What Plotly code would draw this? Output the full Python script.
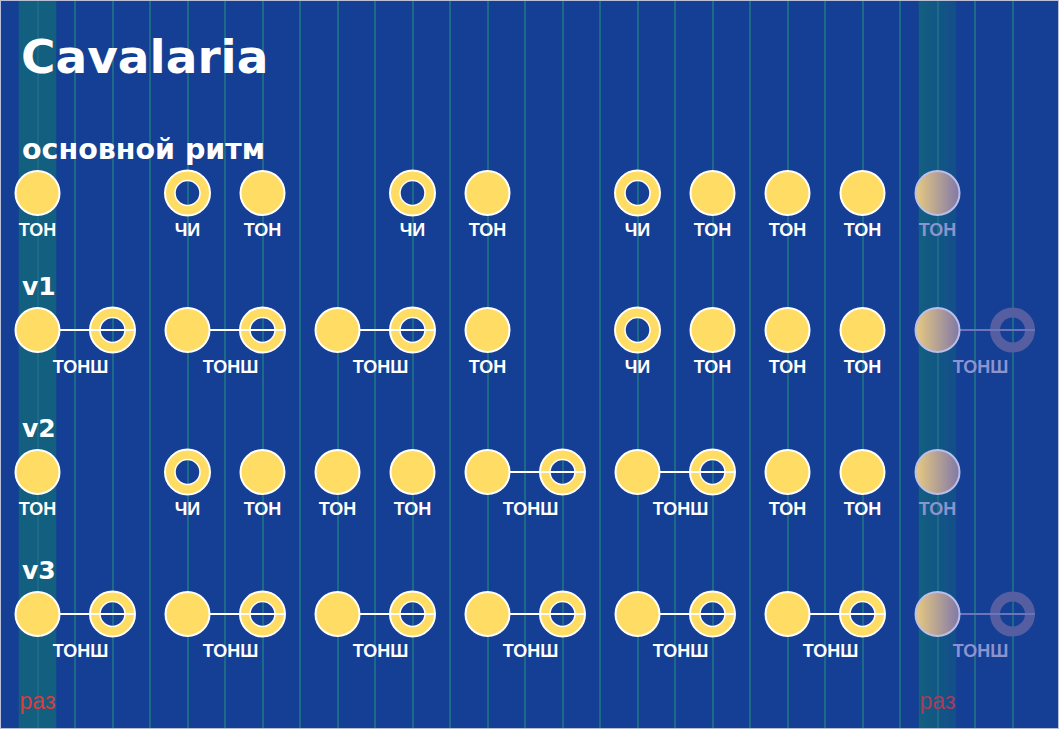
import plotly.graph_objects as go

# palette
BG        = "#143f94"   # canvas blue
BAND      = "#135f80"   # "раз" column highlight
GRID      = "#1b6b88"   # sixteenth-note grid
YELLOW    = "#ffdc64"   # strokes
WHITE     = "#ffffff"
RED       = "#dc3a40"
BG_RGB    = (20, 63, 148)

# faded look for the first stroke of the next cycle
F_FILL_L  = "rgb(232,202,128)"
F_FILL_R  = "rgb(128,120,168)"
F_EDGE    = "rgb(186,190,232)"
F_RING    = "rgb(86,94,162)"
F_LINK    = "rgb(108,116,186)"
F_TEXT    = "rgb(140,148,208)"
F_RED     = "rgb(170,58,92)"

HEAD_FONT  = "DejaVu Sans, Verdana, sans-serif"
LABEL_FONT = "Liberation Sans, Arial, sans-serif"

W, H = 1059, 729
STEP_PX = 37.5          # one sixteenth in pixels
CYCLE = 24              # steps in one cycle

# ─── data ────────────────────────────────────
TITLE = "Cavalaria"
ROW_NAMES = ["основной ритм", "v1", "v2", "v3"]

MAIN_STEPS = [0, 4, 6, 10, 12, 16, 18, 20, 22]
MAIN_HITS  = ["ТОН", "ЧИ", "ТОН", "ЧИ", "ТОН", "ЧИ", "ТОН", "ТОН", "ТОН"]

V1_STEPS = [0, 4, 8, 12, 16, 18, 20, 22]
V1_HITS  = ["ТОНШ", "ТОНШ", "ТОНШ", "ТОН", "ЧИ", "ТОН", "ТОН", "ТОН"]

V2_STEPS = [0, 4, 6, 8, 10, 12, 16, 20, 22]
V2_HITS  = ["ТОН", "ЧИ", "ТОН", "ТОН", "ТОН", "ТОНШ", "ТОНШ", "ТОН", "ТОН"]

V3_STEPS = [0, 4, 8, 12, 16, 20]
V3_HITS  = ["ТОНШ", "ТОНШ", "ТОНШ", "ТОНШ", "ТОНШ", "ТОНШ"]

BEAT_TEXT  = "раз"
BEAT_STEPS = [0, 24]

ROWS = [(MAIN_STEPS, MAIN_HITS), (V1_STEPS, V1_HITS),
        (V2_STEPS, V2_HITS), (V3_STEPS, V3_HITS)]

# layout of rows (pixels from top)
ROW_Y = [193, 330, 472, 614]
LABEL_DY = 38
NAME_DY = -44
RING_R = 0.6            # ring radius in steps (22.5 px)


def px_to_x(px):
    return px / STEP_PX - 1


def collect(steps, hits, y, m):
    for s, h in zip(steps, hits):
        if h == "ТОН":
            m["fill"].append((s, y)); m["lab"].append((s, y + LABEL_DY, h))
        elif h == "ЧИ":
            m["ring"].append((s, y)); m["lab"].append((s, y + LABEL_DY, h))
        else:  # ТОНШ: open tone + slap two steps later
            m["fill"].append((s, y))
            m["ring"].append((s + 2, y))
            m["link"] += [(s, y), (s + 2 + RING_R, y), (None, None)]
            m["lab"].append((s + 1.15, y + LABEL_DY, h))


def empty():
    return {"fill": [], "ring": [], "link": [], "lab": []}


main, faded = empty(), empty()
for (steps, hits), y in zip(ROWS, ROW_Y):
    collect(steps, hits, y, main)
    # first stroke of the next cycle, shown faded
    collect([CYCLE + steps[0]], [hits[0]], y, faded)


def xs(pts):
    return [p[0] for p in pts]


def ys(pts):
    return [p[1] for p in pts]


fig = go.Figure()


def add_marks(m, ring_col, ring_edge, link_col, fill_marker, text_col):
    fig.add_trace(go.Scatter(
        x=xs(m["ring"]), y=ys(m["ring"]), mode="markers", hoverinfo="skip",
        marker=dict(symbol="circle-open", size=35, color=ring_col, line=dict(width=10)),
    ))
    if ring_edge:
        for size, w in [(45, 2), (25, 1.5)]:
            fig.add_trace(go.Scatter(
                x=xs(m["ring"]), y=ys(m["ring"]), mode="markers", hoverinfo="skip",
                marker=dict(symbol="circle-open", size=size, color=ring_edge,
                            line=dict(width=w)),
            ))
    fig.add_trace(go.Scatter(
        x=xs(m["link"]), y=ys(m["link"]), mode="lines", hoverinfo="skip",
        line=dict(color=link_col, width=2),
    ))
    fig.add_trace(go.Scatter(
        x=xs(m["fill"]), y=ys(m["fill"]), mode="markers", hoverinfo="skip",
        marker=fill_marker,
    ))
    fig.add_trace(go.Scatter(
        x=xs(m["lab"]), y=ys(m["lab"]), text=[p[2] for p in m["lab"]],
        mode="text", hoverinfo="skip", textposition="middle center",
        textfont=dict(family=LABEL_FONT, size=18, color=text_col, weight="bold"),
    ))


add_marks(main, YELLOW, WHITE, WHITE,
          dict(symbol="circle", size=44, color=YELLOW,
               line=dict(color=WHITE, width=2)),
          WHITE)
add_marks(faded, F_RING, None, F_LINK,
          dict(symbol="circle", size=44, color=F_FILL_L,
               gradient=dict(type="horizontal", color=F_FILL_R),
               line=dict(color=F_EDGE, width=2)),
          F_TEXT)

# "раз" under the highlighted columns
fig.add_trace(go.Scatter(
    x=BEAT_STEPS, y=[703] * len(BEAT_STEPS), mode="text",
    text=[BEAT_TEXT] * len(BEAT_STEPS), hoverinfo="skip",
    textposition="middle center",
    textfont=dict(family=LABEL_FONT, size=23, color=[RED, F_RED]),
))

# highlighted columns
for s in BEAT_STEPS:
    fig.add_shape(type="rect", xref="x", yref="paper",
                  x0=s - 0.5, x1=s + 0.5, y0=0, y1=1,
                  fillcolor=BAND, line=dict(width=0), layer="between")

# veil dimming grid and band of the next cycle (under the marks)
veil_start, veil_mid = 919, 957
for px in range(veil_start, W, 2):
    if px < veil_mid:
        a = 0.55 * (px - veil_start) / (veil_mid - veil_start)
    else:
        a = 0.55
    fig.add_shape(type="rect", xref="x", yref="paper",
                  x0=px_to_x(px), x1=px_to_x(px + 2), y0=0, y1=1,
                  fillcolor="rgba(%d,%d,%d,%.3f)" % (*BG_RGB, a),
                  line=dict(width=0), layer="between")

# headings
fig.add_annotation(text=TITLE, xref="paper", yref="y", x=19 / W, y=56,
                   xanchor="left", yanchor="middle", showarrow=False,
                   font=dict(family=HEAD_FONT, size=47, color=WHITE, weight="bold"))
for name, y in zip(ROW_NAMES, ROW_Y):
    fig.add_annotation(text=name, xref="paper", yref="y", x=20 / W, y=y + NAME_DY,
                       xanchor="left", yanchor="middle", showarrow=False,
                       font=dict(family=HEAD_FONT, size=28.5 if len(name) > 2 else 25,
                                 color=WHITE, weight="bold"))

fig.update_layout(
    width=W, height=H,
    margin=dict(l=0, r=0, t=0, b=0),
    paper_bgcolor=BG, plot_bgcolor=BG,
    showlegend=False,
    xaxis=dict(range=[px_to_x(0), px_to_x(W)], tickvals=list(range(0, 27)),
               showticklabels=False, showgrid=True, gridcolor=GRID, gridwidth=2,
               zeroline=False, showline=False, fixedrange=True),
    yaxis=dict(range=[H, 0], showgrid=False, zeroline=False,
               showticklabels=False, fixedrange=True),
)

# thin frame around the card
fig.add_shape(type="rect", xref="paper", yref="paper", x0=0, x1=1, y0=0, y1=1,
              line=dict(color="#b9bfd6", width=2), layer="above")

fig.write_html("out.html", config={"displayModeBar": False},
               post_script="document.body.style.margin = '0';")
